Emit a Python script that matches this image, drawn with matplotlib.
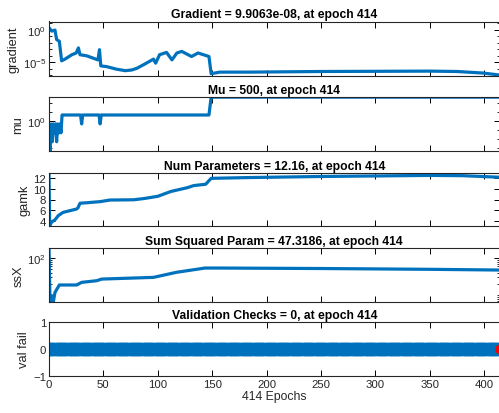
import matplotlib
matplotlib.use("Agg")
import matplotlib.pyplot as plt
import matplotlib.ticker as mticker
import numpy as np

plt.rcParams["font.family"] = ["Liberation Sans", "DejaVu Sans"]
plt.rcParams["mathtext.fontset"] = "custom"
plt.rcParams["mathtext.rm"] = "Liberation Sans"
plt.rcParams["axes.linewidth"] = 0.8

LINE_BLUE = "#0072BD"
N_EPOCHS = 414

# training state, read per epoch
grad_epochs = [0, 2.5, 5.5, 7, 9.5, 11.6, 14.7, 21, 25, 27, 28.5, 34.7, 45, 46.4, 47.6, 53,
               62, 70, 76, 80.8, 88, 96, 98, 101.6, 108, 113, 117.5, 122, 131, 137, 147, 149, 157,
               184, 250, 350, 375, 399, 414]
grad_values = [2.2, 0.65, 0.93, 3.2e-2, 1.7e-2, 1.6e-5, 2.9e-5, 1.4e-4, 2.6e-4, 1.6e-3, 1.4e-4, 9.5e-5,
               2.2e-5, 8.5e-4, 2.6e-6, 2.0e-6, 8.0e-7, 4.7e-7, 6.0e-7, 1.1e-6, 5.0e-6, 2.9e-5, 6.8e-6,
               1.4e-4, 3.2e-4, 2.2e-5, 2.6e-4, 4.6e-4, 7.4e-5, 2.6e-4, 7.4e-5, 1.6e-7, 2.8e-7,
               2.8e-7, 3.5e-7, 4.0e-7, 3.5e-7, 2.0e-7, 9.9063e-8]

mu_epochs = [0, 1, 2, 3, 4, 5, 6, 7, 8, 9, 10, 11, 12, 29, 30, 31, 46, 47, 48, 147, 148, 149, 414]
mu_values = [0.005, 0.0005, 0.5, 0.005, 0.5, 0.05, 0.5, 0.005, 0.5, 0.05, 0.5, 0.05, 5,
             5, 0.5, 5, 5, 0.5, 5, 5, 50, 500, 500]

gamk_epochs = [0, 0.6, 2.5, 5.5, 8.6, 13, 19, 25, 26.5, 28.5, 35, 47, 56, 78, 88, 100, 112,
               127, 133, 144, 149, 160, 184, 250, 350, 380, 414]
gamk_values = [12.9, 3.1, 3.8, 4.2, 5.0, 5.6, 5.9, 6.2, 6.4, 7.3, 7.4, 7.6, 7.9, 7.95, 8.2, 8.6, 9.5,
               10.2, 10.6, 10.85, 11.95, 12.0, 12.1, 12.3, 12.5, 12.45, 12.16]

ssx_epochs = [0, 0.9, 2.5, 4, 5.5, 9.5, 25.4, 30, 43.8, 48.4, 96, 117, 143.4, 160, 250, 350, 414]
ssx_values = [186, 7.0, 9.6, 6.6, 11.8, 18.7, 18.7, 22, 24.4, 27, 30, 41, 53.6, 53.5, 52, 49.5, 47.3186]

val_epochs = np.arange(0, N_EPOCHS + 1)
val_fail = np.zeros(N_EPOCHS + 1)

titles = [
    "Gradient = 9.9063e-08, at epoch 414",
    "Mu = 500, at epoch 414",
    "Num Parameters = 12.16, at epoch 414",
    "Sum Squared Param = 47.3186, at epoch 414",
    "Validation Checks = 0, at epoch 414",
]
ylabels = ["gradient", "mu", "gamk", "ssX", "val fail"]

# panel boxes in pixels: (top, bottom)
W, H = 499, 414
panel_px = [(22.5, 77), (98, 152), (174, 227), (249, 303), (323, 377.3)]
left_px, right_px = 49, 499.5

fig = plt.figure(figsize=(W / 100, H / 100), dpi=100)
axes = []
for top, bottom in panel_px:
    ax = fig.add_axes([left_px / W, 1 - bottom / H, (right_px - left_px) / W, (bottom - top) / H])
    axes.append(ax)

ax_grad, ax_mu, ax_gamk, ax_ssx, ax_val = axes

ax_grad.semilogy(grad_epochs, grad_values, color=LINE_BLUE, linewidth=2.3)
ax_grad.set_ylim(7e-8, 20)
ax_grad.yaxis.set_major_locator(mticker.FixedLocator([1e0, 1e-5]))
ax_grad.yaxis.set_minor_locator(mticker.FixedLocator([10.0 ** k for k in range(-7, 2) if k not in (0, -5)]))

ax_mu.semilogy(mu_epochs, mu_values, color=LINE_BLUE, linewidth=2.3)
ax_mu.set_ylim(4.6e-4, 520)
ax_mu.yaxis.set_major_locator(mticker.FixedLocator([1e0]))
ax_mu.yaxis.set_minor_locator(mticker.FixedLocator([10.0 ** k for k in (-3, -2, -1, 1, 2)]))

ax_gamk.plot(gamk_epochs, gamk_values, color=LINE_BLUE, linewidth=2.3)
ax_gamk.set_ylim(3.05, 12.95)
ax_gamk.set_yticks([4, 6, 8, 10, 12])

ax_ssx.semilogy(ssx_epochs, ssx_values, color=LINE_BLUE, linewidth=2.3)
ax_ssx.set_ylim(6.5, 186)
ax_ssx.yaxis.set_major_locator(mticker.FixedLocator([1e2]))
ax_ssx.yaxis.set_minor_locator(mticker.LogLocator(base=10, subs=np.arange(1, 10), numticks=20))

for ax in (ax_grad, ax_mu, ax_ssx):
    ax.yaxis.set_minor_formatter(mticker.NullFormatter())

ax_val.plot(val_epochs, val_fail, color=LINE_BLUE, linewidth=2, marker="o",
            markersize=9.2, markerfacecolor=LINE_BLUE, markeredgecolor=LINE_BLUE, markeredgewidth=0.5)
ax_val.plot([N_EPOCHS], [0], "o", color="red", markersize=6.5)
ax_val.set_ylim(-1, 1)
ax_val.set_yticks([-1, 0, 1])
ax_val.set_xlabel("414 Epochs", fontsize=8.8, color="#262626", labelpad=1)

for ax, title, ylabel in zip(axes, titles, ylabels):
    ax.set_xlim(0, N_EPOCHS)
    ax.set_xticks(np.arange(0, 401, 50))
    ax.set_title(title, fontsize=8.7, fontweight="bold", pad=3)
    ax.set_ylabel(ylabel, fontsize=9.3, color="#262626", labelpad=2)
    ax.tick_params(which="major", direction="in", top=True, right=True, length=4, width=0.7,
                   labelsize=8.2, pad=2, labelcolor="#262626")
    ax.tick_params(which="minor", direction="in", top=True, right=True, length=2.2, width=0.6)
    for spine in ax.spines.values():
        spine.set_color("#262626")
    if ax is not ax_val:
        ax.tick_params(axis="x", labelbottom=False)

fig.savefig("out.png", dpi=100)
